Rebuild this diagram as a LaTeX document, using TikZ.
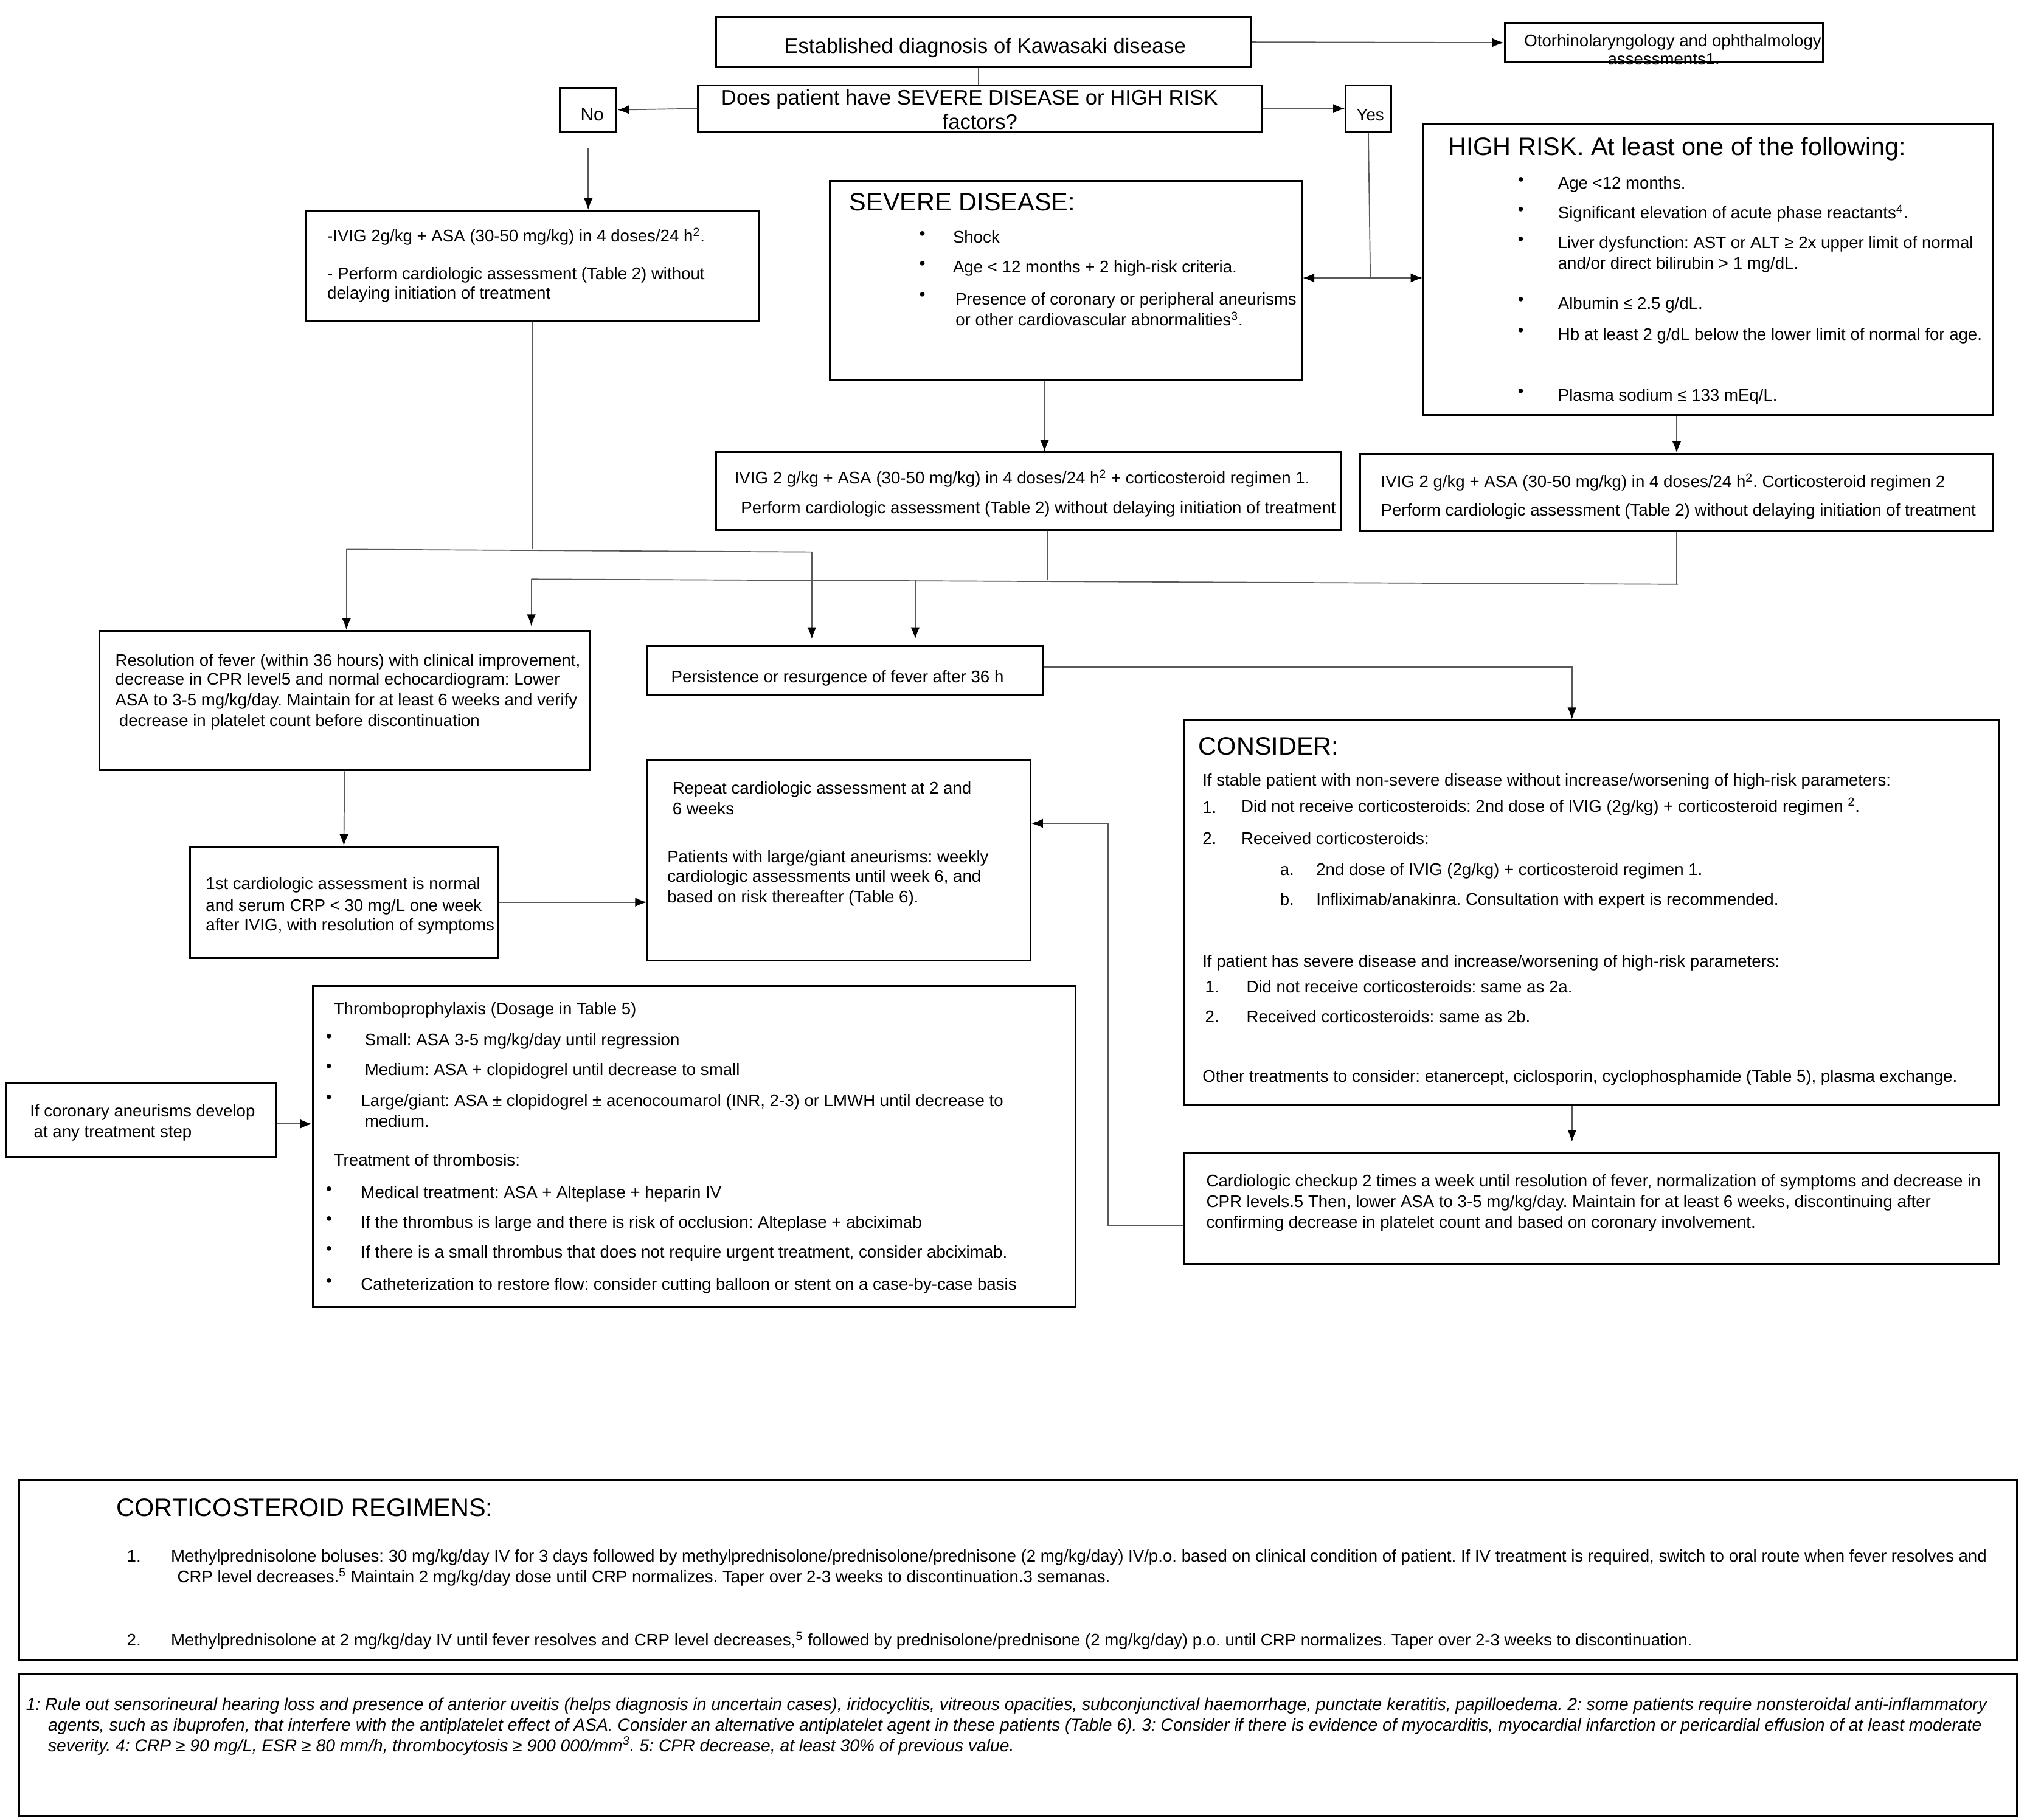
\documentclass[tikz,border=0pt]{standalone}
\usepackage{fontspec}
\setmainfont{Liberation Sans}
\usetikzlibrary{arrows.meta}
\newcommand\bx[5]{\node[box, minimum width={#4-#2}, minimum height={#5-#3}] (#1) at ({(#2+#4)/2},{(#3+#5)/2}) {};}
\newcommand\sps[1]{\textsuperscript{#1}}
\frenchspacing
\begin{document}
\frenchspacing
\begin{tikzpicture}[x=1pt,y=-1pt,
  box/.style={draw=black, line width=1.4pt, rectangle, inner sep=0pt},
  txt/.style={anchor=west, inner sep=0pt, text height=2.3ex, text depth=.35ex, font=\fontsize{13}{15}\selectfont},
  ctxt/.style={txt, anchor=center},
  big/.style={font=\fontsize{16.3}{18}\selectfont},
  head/.style={font=\fontsize{19.5}{22}\selectfont},
  sm/.style={font=\fontsize{13}{15}\selectfont},
  fn/.style={font=\fontsize{13.3}{15}\selectfont\itshape},
  conn/.style={draw=black!65, line width=0.8pt},
  arr/.style={conn, -{Latex[length=9pt,width=7pt,color=black]}},
  arrb/.style={conn, {Latex[length=9pt,width=7pt,color=black]}-{Latex[length=9pt,width=7pt,color=black]}}
]
\useasboundingbox[fill=white] (0,0) rectangle (1568,1407.6);

% ---------- boxes ----------
\bx{A}{554}{13}{968}{52}
\bx{B}{1164}{18}{1410}{48}
\bx{C}{540}{66}{976}{102}
\bx{D}{433}{68}{477}{102}
\bx{E}{1041}{66}{1076}{102}
\bx{F}{237}{163}{587}{248}
\bx{G}{642}{140}{1007}{294}
\bx{H}{1101}{96}{1542}{321}
\bx{I}{554}{350}{1037}{410}
\bx{J}{1052}{351}{1542}{411}
\bx{K}{77}{488}{456}{596}
\bx{L}{501}{500}{807}{538}
\bx{M}{916}{557}{1546}{855}
\bx{N}{916}{892}{1546}{978}
\bx{O}{501}{588}{797}{743}
\bx{P}{147}{655}{385}{741}
\bx{Q}{5}{838}{214}{895}
\bx{R}{242}{763}{832}{1011}
\bx{S}{15}{1145}{1560}{1284}
\bx{T}{15}{1295}{1560}{1405}

% ---------- texts ----------
\node[ctxt,big] (a1) at (762,36) {Established diagnosis of Kawasaki disease};
\node[ctxt] (b1) at (1294,31) {Otorhinolaryngology and ophthalmology};
\node[ctxt] (b2) at (1287,45) {assessments1.};
\node[ctxt,big] (c1) at (750,76) {Does patient have SEVERE DISEASE or HIGH RISK};
\node[ctxt,big] (c2) at (758,95) {factors?};
\node[ctxt,font=\fontsize{14}{16}\selectfont] (d1) at (458,88) {No};
\node[ctxt] (e1) at (1060,88) {Yes};

\node[txt] (f1) at (253,182) {-IVIG 2g/kg + ASA (30-50 mg/kg) in 4 doses/24 h\sps{2}.};
\node[txt] (f2) at (253,211) {- Perform cardiologic assessment (Table 2) without};
\node[txt] (f3) at (253,226) {delaying initiation of treatment};

\node[txt,head] (g0) at (657,158) {SEVERE DISEASE:};
\node[txt] (gb1) at (711,180) {•};
\node[txt] (g1) at (737,183) {Shock};
\node[txt] (gb2) at (711,203) {•};
\node[txt] (g2) at (737,206) {Age < 12 months + 2 high-risk criteria.};
\node[txt] (gb3) at (711,227) {•};
\node[txt] (g3) at (739,231) {Presence of coronary or peripheral aneurisms};
\node[txt] (g4) at (739,247) {or other cardiovascular abnormalities\sps{3}.};

\node[txt,head] (h0) at (1120,115) {HIGH RISK. At least one of the following:};
\node[txt] (hb1) at (1174,138) {•};
\node[txt] (h1) at (1205,141) {Age <12 months.};
\node[txt] (hb2) at (1174,161) {•};
\node[txt] (h2) at (1205,164) {Significant elevation of acute phase reactants\sps{4}.};
\node[txt] (hb3) at (1174,184) {•};
\node[txt] (h3) at (1205,187) {Liver dysfunction: AST or ALT ≥ 2x upper limit of normal};
\node[txt] (h4) at (1205,203) {and/or direct bilirubin > 1 mg/dL.};
\node[txt] (hb4) at (1174,231) {•};
\node[txt] (h5) at (1205,234) {Albumin ≤ 2.5 g/dL.};
\node[txt] (hb5) at (1174,255) {•};
\node[txt] (h6) at (1205,258) {Hb at least 2 g/dL below the lower limit of normal for age.};
\node[txt] (hb6) at (1174,302) {•};
\node[txt] (h7) at (1205,305) {Plasma sodium ≤ 133 mEq/L.};

\node[txt] (i1) at (568,369) {IVIG 2 g/kg + ASA (30-50 mg/kg) in 4 doses/24 h\sps{2} + corticosteroid regimen 1.};
\node[txt] (i2) at (573,392) {Perform cardiologic assessment (Table 2) without delaying initiation of treatment};
\node[txt] (j1) at (1068,372) {IVIG 2 g/kg + ASA (30-50 mg/kg) in 4 doses/24 h\sps{2}. Corticosteroid regimen 2};
\node[txt] (j2) at (1068,394) {Perform cardiologic assessment (Table 2) without delaying initiation of treatment};

\node[txt] (k1) at (89,510) {Resolution of fever (within 36 hours) with clinical improvement,};
\node[txt] (k2) at (89,525) {decrease in CPR level5 and normal echocardiogram: Lower};
\node[txt] (k3) at (89,541) {ASA to 3-5 mg/kg/day. Maintain for at least 6 weeks and verify};
\node[txt] (k4) at (92,557) {decrease in platelet count before discontinuation};

\node[txt] (l1) at (519,523) {Persistence or resurgence of fever after 36 h};

\node[txt,head] (m0) at (927,579) {CONSIDER:};
\node[txt] (m1) at (930,603) {If stable patient with non-severe disease without increase/worsening of high-risk parameters:};
\node[txt] (mn1) at (930,624) {1.};
\node[txt] (m2) at (960,623) {Did not receive corticosteroids: 2nd dose of IVIG (2g/kg) + corticosteroid regimen \sps{2}.};
\node[txt] (mn2) at (930,648) {2.};
\node[txt] (m3) at (960,648) {Received corticosteroids:};
\node[txt] (mna) at (990,672) {a.};
\node[txt] (m4) at (1018,672) {2nd dose of IVIG (2g/kg) + corticosteroid regimen 1.};
\node[txt] (mnb) at (990,695) {b.};
\node[txt] (m5) at (1018,695) {Infliximab/anakinra. Consultation with expert is recommended.};
\node[txt] (m6) at (930,743) {If patient has severe disease and increase/worsening of high-risk parameters:};
\node[txt] (mn3) at (932,763) {1.};
\node[txt] (m7) at (964,763) {Did not receive corticosteroids: same as 2a.};
\node[txt] (mn4) at (932,786) {2.};
\node[txt] (m8) at (964,786) {Received corticosteroids: same as 2b.};
\node[txt] (m9) at (930,832) {Other treatments to consider: etanercept, ciclosporin, cyclophosphamide (Table 5), plasma exchange.};

\node[txt] (n1) at (933,913) {Cardiologic checkup 2 times a week until resolution of fever, normalization of symptoms and decrease in};
\node[txt] (n2) at (933,929) {CPR levels.5 Then, lower ASA to 3-5 mg/kg/day. Maintain for at least 6 weeks, discontinuing after};
\node[txt] (n3) at (933,945) {confirming decrease in platelet count and based on coronary involvement.};

\node[txt] (o1) at (520,609) {Repeat cardiologic assessment at 2 and};
\node[txt] (o2) at (520,625) {6 weeks};
\node[txt] (o3) at (516,662) {Patients with large/giant aneurisms: weekly};
\node[txt] (o4) at (516,677) {cardiologic assessments until week 6, and};
\node[txt] (o5) at (516,693) {based on risk thereafter (Table 6).};

\node[txt] (p1) at (159,683) {1st cardiologic assessment is normal};
\node[txt] (p2) at (159,700) {and serum CRP < 30 mg/L one week};
\node[txt] (p3) at (159,715) {after IVIG, with resolution of symptoms};

\node[txt] (q1) at (23,859) {If coronary aneurisms develop};
\node[txt] (q2) at (26,875) {at any treatment step};

\node[txt] (r0) at (258,780) {Thromboprophylaxis (Dosage in Table 5)};
\node[txt] (rb1) at (252,801) {•};
\node[txt] (r1) at (282,804) {Small: ASA 3-5 mg/kg/day until regression};
\node[txt] (rb2) at (252,824) {•};
\node[txt] (r2) at (282,827) {Medium: ASA + clopidogrel until decrease to small};
\node[txt] (rb3) at (252,848) {•};
\node[txt] (r3) at (279,851) {Large/giant: ASA ± clopidogrel ± acenocoumarol (INR, 2-3) or LMWH until decrease to};
\node[txt] (r4) at (282,867) {medium.};
\node[txt] (r5) at (258,897) {Treatment of thrombosis:};
\node[txt] (rb4) at (252,919) {•};
\node[txt] (r6) at (279,922) {Medical treatment: ASA + Alteplase + heparin IV};
\node[txt] (rb5) at (252,942) {•};
\node[txt] (r7) at (279,945) {If the thrombus is large and there is risk of occlusion: Alteplase + abciximab};
\node[txt] (rb6) at (252,965) {•};
\node[txt] (r8) at (279,968) {If there is a small thrombus that does not require urgent treatment, consider abciximab.};
\node[txt] (rb7) at (252,990) {•};
\node[txt] (r9) at (279,993) {Catheterization to restore flow: consider cutting balloon or stent on a case-by-case basis};

\node[txt,head] (s0) at (90,1168) {CORTICOSTEROID REGIMENS:};
\node[txt,sm] (sn1) at (98,1203) {1.};
\node[txt,sm] (s1) at (132,1203) {Methylprednisolone boluses: 30 mg/kg/day IV for 3 days followed by methylprednisolone/prednisolone/prednisone (2 mg/kg/day) IV/p.o. based on clinical condition of patient. If IV treatment is required, switch to oral route when fever resolves and};
\node[txt,sm] (s2) at (137,1219) {CRP level decreases.\sps{5} Maintain 2 mg/kg/day dose until CRP normalizes. Taper over 2-3 weeks to discontinuation.3 semanas.};
\node[txt,sm] (sn2) at (98,1268) {2.};
\node[txt,sm] (s3) at (132,1268) {Methylprednisolone at 2 mg/kg/day IV until fever resolves and CRP level decreases,\sps{5} followed by prednisolone/prednisone (2 mg/kg/day) p.o. until CRP normalizes. Taper over 2-3 weeks to discontinuation.};

\node[txt,fn] (t1) at (20,1318) {1: Rule out sensorineural hearing loss and presence of anterior uveitis (helps diagnosis in uncertain cases), iridocyclitis, vitreous opacities, subconjunctival haemorrhage, punctate keratitis, papilloedema. 2: some patients require nonsteroidal anti-inflammatory};
\node[txt,fn] (t2) at (37,1334) {agents, such as ibuprofen, that interfere with the antiplatelet effect of ASA. Consider an alternative antiplatelet agent in these patients (Table 6). 3: Consider if there is evidence of myocarditis, myocardial infarction or pericardial effusion of at least moderate};
\node[txt,fn] (t3) at (37,1350) {severity. 4: CRP ≥ 90 mg/L, ESR ≥ 80 mm/h, thrombocytosis ≥ 900 000/mm\sps{3}. 5: CPR decrease, at least 30\% of previous value.};

% ---------- connectors ----------
\draw[arr] (A.east) -- (B.west);
\draw[conn] ([xshift=-4pt]A.south) -- ([xshift=-4pt]A.south |- C.north);
\draw[arr] (C.west) -- (D.east);
\draw[arr] (C.east) -- (E.west);
\draw[arr] ([yshift=-12pt]D.south) -- (D.south |- F.north);
\coordinate (yj) at (1060,215);
\draw[conn] (E.south) -- (yj);
\draw[arrb] (G.east |- yj) -- (H.west |- yj);
\draw[arr] ([xshift=-16.5pt]G.south) -- ([xshift=-16.5pt]G.south |- I.north);
\draw[arr] (J.north |- H.south) -- (J.north);

\coordinate (h1L) at (268,425);
\coordinate (h1R) at (628,427);
\draw[conn] (F.south) -- (F.south |- h1L);
\draw[conn] (h1L) -- (h1R);
\draw[arr] (h1L) -- (h1L |- K.north);
\draw[arr] (h1R) -- ([yshift=5pt]h1R |- L.north);

\coordinate (h2L) at (411,448);
\coordinate (h2M) at (708,449);
\coordinate (h2R) at (1298,452);
\draw[conn] ([xshift=14.5pt]I.south) -- ([xshift=14.5pt]I.south |- h2M);
\draw[conn] (J.south) -- (J.south |- h2R);
\draw[conn] (h2L) -- (h2R);
\draw[arr] (h2L) -- ([yshift=3pt]h2L |- K.north);
\draw[arr] (h2M) -- ([yshift=5pt]h2M |- L.north);

\draw[arr] ([yshift=3pt]L.east) -| ([xshift=-15pt]M.north);
\draw[arr, shorten >=8pt] ([xshift=-15pt]M.south) -- ([xshift=-15pt]N.north);
\draw[arr] ([yshift=-13pt]N.west) -- ++(-58,0) |- ([yshift=28.5pt]O.east);
\draw[arr] (K.south) -- (P.north);
\draw[arr] (P.east) -- (P.east -| O.west);
\draw[arr] ([yshift=-3pt]Q.east) -- ([yshift=-3pt]Q.east -| R.west);
\end{tikzpicture}
\end{document}
